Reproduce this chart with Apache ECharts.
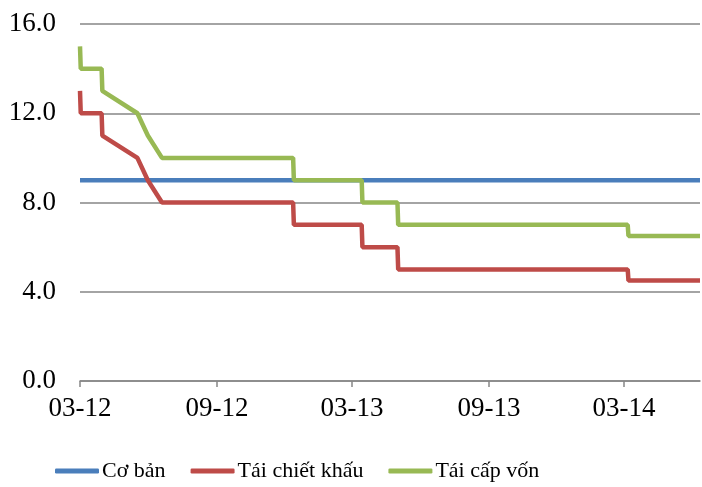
<!DOCTYPE html>
<html>
<head>
<meta charset="utf-8">
<script src="https://cdn.jsdelivr.net/npm/echarts@6/dist/echarts.min.js"></script>
<style>html,body{margin:0;padding:0;background:#fff}#c{width:702px;height:487px}</style>
</head>
<body>
<div id="c"></div>
<script>
// Data
var dates = ['2012-03-12','2012-03-13','2012-04-10','2012-04-11','2012-05-28','2012-06-11','2012-06-30',
             '2012-12-23','2012-12-24','2013-03-25','2013-03-26','2013-05-12','2013-05-13',
             '2014-03-17','2014-03-18','2014-06-22'];
var coBan      = [9, 9, 9, 9, 9, 9, 9, 9, 9, 9, 9, 9, 9, 9, 9, 9];
var taiChietKhau = [13, 12, 12, 11, 10, 9, 8, 8, 7, 7, 6, 6, 5, 5, 4.5, 4.5];
var taiCapVon  = [15, 14, 14, 13, 12, 11, 10, 10, 9, 9, 8, 8, 7, 7, 6.5, 6.5];
var seriesNames = ['Cơ bản', 'Tái chiết khấu', 'Tái cấp vốn'];
var tickDates = ['2012-03-12','2012-09-12','2013-03-12','2013-09-12','2014-03-12'];
var tickLabels = ['03-12','09-12','03-13','09-13','03-14'];
var axisStart = '2012-03-12', axisEnd = '2014-06-22';

function ts(s){var p=s.split('-');return Date.UTC(+p[0],+p[1]-1,+p[2]);}
var DAY = 86400000;
function dayNo(s){return Math.round((ts(s) - ts(axisStart)) / DAY);}
function pairs(vals){return dates.map(function(d,i){return [dayNo(d), vals[i]];});}
var tickDays = tickDates.map(dayNo);

var colors = ['#4A7EBB', '#BE4B48', '#98B954'];
var font = 'Liberation Serif, Times New Roman, serif';
var chart = echarts.init(document.getElementById('c'));
chart.setOption({
  animation: false,
  color: colors,
  grid: {left: 80, right: 2, top: 24, bottom: 106, containLabel: false, outerBoundsMode: 'none'},
  legend: {
    left: 50, top: 455,
    itemWidth: 44, itemHeight: 5, itemGap: 25,
    icon: 'roundRect',
    textStyle: {fontFamily: font, fontSize: 22, color: '#000', padding: [0,0,0,-2]},
    data: seriesNames
  },
  xAxis: {
    type: 'value',
    min: 0, max: dayNo(axisEnd),
    axisLine: {lineStyle: {color: '#868686', width: 1.5}},
    axisTick: {show: true, length: 6, customValues: tickDays, lineStyle: {color: '#868686', width: 1.5}},
    axisLabel: {
      customValues: tickDays,
      fontFamily: font, fontSize: 27, color: '#000', margin: 14,
      formatter: function(v){
        var i = tickDays.indexOf(v);
        return i >= 0 ? tickLabels[i] : '';
      }
    },
    splitLine: {show: false}
  },
  yAxis: {
    type: 'value', min: 0, max: 16, interval: 4,
    axisLine: {show: false}, axisTick: {show: false},
    axisLabel: {fontFamily: font, fontSize: 27, color: '#000', margin: 24,
      formatter: function(v){return v.toFixed(1);}},
    splitLine: {lineStyle: {color: '#868686', width: 1.5}}
  },
  series: [
    {name: seriesNames[0], type: 'line', data: pairs(coBan), showSymbol: false, lineStyle: {width: 4.5}},
    {name: seriesNames[1], type: 'line', data: pairs(taiChietKhau), showSymbol: false, lineStyle: {width: 4.5}},
    {name: seriesNames[2], type: 'line', data: pairs(taiCapVon), showSymbol: false, lineStyle: {width: 4.5}}
  ]
});
</script>
</body>
</html>
